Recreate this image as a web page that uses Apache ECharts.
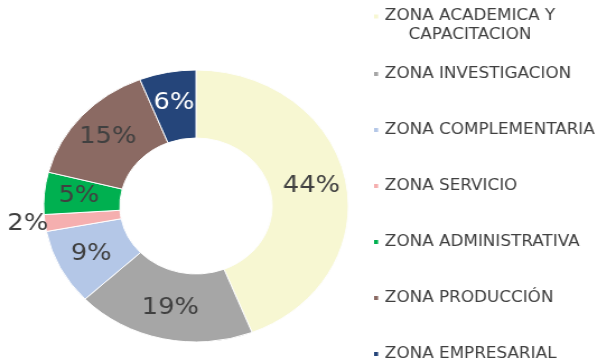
<!DOCTYPE html>
<html>
<head>
<meta charset="utf-8">
<script src="https://cdn.jsdelivr.net/npm/echarts@6/dist/echarts.min.js"></script>
<style>
  html, body { margin: 0; padding: 0; background: #fff; overflow: hidden; }
  #wrap { width: 598px; height: 363px; overflow: hidden; }
  /* the chart is drawn slightly widened horizontally */
  #chart { width: 534px; height: 363px; transform: scaleX(1.12); transform-origin: 0 0; }
</style>
</head>
<body>
<div id="wrap"><div id="chart"></div></div>
<script>
// Zone names (legend order) and their share of the total area, in percent
const zones = [
  'ZONA ACADEMICA Y CAPACITACION',
  'ZONA INVESTIGACION',
  'ZONA COMPLEMENTARIA',
  'ZONA SERVICIO',
  'ZONA ADMINISTRATIVA',
  'ZONA PRODUCCIÓN',
  'ZONA EMPRESARIAL'
];
const shares = [44, 19, 9, 2, 5, 15, 6];
const zoneColors = ['#F7F7D2', '#A6A6A6', '#B4C7E7', '#F5AFAF', '#00B050', '#8B6A63', '#25457A'];

const FONT = 'DejaVu Sans';
const TEXT = '#404040';
const LEGEND_SIZE = 15;

const data = zones.map((name, i) => {
  const item = { name: name, value: shares[i], itemStyle: { color: zoneColors[i] } };
  if (name === 'ZONA EMPRESARIAL') item.label = { color: '#ffffff' };
  if (name === 'ZONA SERVICIO') item.label = { offset: [-46, 5] };
  return item;
});

const chart = echarts.init(document.getElementById('chart'), null, { renderer: 'canvas' });
chart.setOption({
  animation: false,
  backgroundColor: '#ffffff',
  legend: [
    {
      data: [zones[0]],
      orient: 'vertical',
      left: 332,
      top: -10,
      padding: 0,
      icon: 'rect',
      itemWidth: 5.6,
      itemHeight: 6,
      selectedMode: false,
      formatter: () => '{e| }\n{c|ZONA ACADEMICA Y}\n{c|CAPACITACION}',
      textStyle: {
        color: TEXT,
        fontFamily: FONT,
        fontSize: LEGEND_SIZE,
        rich: {
          e: { fontSize: LEGEND_SIZE, lineHeight: 19, fontFamily: FONT },
          c: { fontSize: LEGEND_SIZE, lineHeight: 19, align: 'center', color: TEXT, fontFamily: FONT }
        }
      }
    },
    {
      data: zones.slice(1),
      orient: 'vertical',
      left: 332,
      top: 65,
      padding: 0,
      icon: 'rect',
      itemWidth: 5.6,
      itemHeight: 6,
      itemGap: 38,
      selectedMode: false,
      textStyle: { color: TEXT, fontFamily: FONT, fontSize: LEGEND_SIZE, lineHeight: 18 }
    }
  ],
  series: [{
    type: 'pie',
    center: [175, 206],
    radius: [68, 136],
    startAngle: 90,
    clockwise: true,
    avoidLabelOverlap: false,
    itemStyle: { borderColor: '#ffffff', borderWidth: 1 },
    label: {
      show: true,
      position: 'inside',
      formatter: '{c}%',
      color: TEXT,
      fontFamily: FONT,
      fontSize: 23
    },
    labelLine: { show: false },
    emphasis: { disabled: true },
    data: data
  }]
});
</script>
</body>
</html>
